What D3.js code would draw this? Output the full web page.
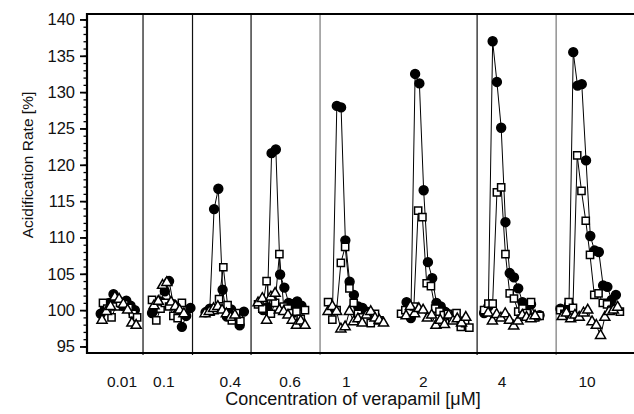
<!DOCTYPE html>
<html><head><meta charset="utf-8">
<script src="https://cdn.jsdelivr.net/npm/d3@7"></script>
<style>html,body{margin:0;padding:0;background:#fff}svg{display:block}</style>
</head><body>
<script>
// ---------- data ----------
const concLabels = ["0.01","0.1","0.4","0.6","1","2","4","10"];
const labelTime  = [8.2, 18.0, 33.6, 47.6, 60.8, 78.8, 97.3, 117.2];   // minutes
const separatorTime = [13.13, 24.73, 38.45, 54.62, 91.43, 109.95];
const separatorGrey = [false, false, false, true, false, true];

const circleStart = [3.21, 15.24, 27.78, 41.26, 57.55, 74.9, 93.07, 110.96];
const squareStart = [3.75, 15.24, 28.95, 40.09, 56.5, 73.61, 93.07, 110.89];
const triStart    = [3.52, 15.71, 27.66, 40.09, 56.5, 74.78, 94.01, 111.36];

const circleVals = [
  [99.5,100.2,101.0,102.2,101.0,100.6,101.3,100.6,100.0],
  [99.6,100.2,101.2,102.6,104.0,100.8,99.5,97.7,99.2,100.3],
  [99.7,100.2,113.9,116.7,102.8,99.1,100.1,99.3,97.9,99.8],
  [100.0,100.4,121.6,122.1,104.9,103.1,101.0,100.8,101.2,100.6],
  [100.1,128.1,127.9,109.6,103.9,102.1,100.5,100.3,99.8,99.2,98.8],
  [101.1,98.9,132.5,131.2,116.5,106.6,104.4,101.0,100.5,99.8,99.3,99.0],
  [99.6,100.5,137.0,131.4,125.1,112.1,105.1,104.5,103.0,101.1,99.8,100.8,99.1,99.3],
  [100.2,99.4,100.7,135.5,130.9,131.1,120.6,110.2,108.2,108.0,103.4,103.2,101.4,102.1]
];
const squareVals = [
  [101.0,100.2,99.0,100.5,101.0,100.8,100.3,99.5,99.0],
  [101.4,98.6,100.2,101.0,100.5,99.2,98.9,101.0],
  [99.8,100.0,101.5,105.9,100.7,98.6,99.6,98.5],
  [100.8,100.2,104.0,99.5,101.0,107.7,100.5,100.2,99.6,99.8,98.8,100.0],
  [101.1,98.7,100.0,106.5,108.7,103.0,101.0,99.5,99.0,98.5,98.2,99.5,98.6],
  [99.5,100.0,99.8,100.5,113.7,112.8,103.7,103.3,100.2,99.8,99.3,99.5,98.9,99.6,97.7,98.2,97.6],
  [100.0,100.9,100.9,116.2,116.9,107.7,102.3,101.6,99.8,100.2,99.6,101.1,99.0,99.2],
  [100.0,99.5,101.1,100.3,121.3,116.4,112.3,107.6,102.1,102.3,101.0,100.8,100.0,100.3,99.8]
];
const triVals = [
  [98.6,99.8,100.5,101.8,101.5,100.8,100.0,98.2,97.9],
  [100.6,101.2,103.4,103.8,101.1,100.5,100.0,99.5],
  [99.5,99.8,100.2,100.5,100.0,99.5,99.0,99.3],
  [101.0,101.6,98.6,101.8,102.3,100.0,99.8,99.3,98.6,97.9,98.5,97.9],
  [99.8,100.5,99.8,97.4,97.7,99.8,98.4,98.8,98.2,99.3,99.8,98.9,98.6,98.2],
  [99.2,100.5,99.5,100.2,100.0,98.9,99.3,97.9,98.6,98.0,99.3,98.5,98.8,98.2,99.0],
  [99.6,98.5,99.4,98.9,99.5,98.6,97.8,98.5,99.3,99.0,98.8,99.2],
  [99.1,99.6,98.8,99.3,99.0,99.6,100.0,98.4,97.9,96.5,99.0,99.8,100.0,100.4]
];
const yMajorTicks = [95,100,105,110,115,120,125,130,135,140];
const sampleStep = 1; // minutes between samples

// ---------- layout ----------
const W = 634, H = 414;
const mLeft = 87, mRight = 634, mTop = 14, mBottom = 353;
const font = "'Liberation Sans', Arial, sans-serif";

const svg = d3.select("body").append("svg").attr("width", W).attr("height", H);
const x = d3.scaleLinear().domain([0, 128.2]).range([mLeft, mRight]);
const y = d3.scaleLinear().domain([94.1, 140.75]).range([mBottom, mTop]);

// separators
svg.append("g").selectAll("line").data(separatorTime).join("line")
  .attr("x1", d => x(d)).attr("x2", d => x(d))
  .attr("y1", mTop).attr("y2", mBottom + 2)
  .attr("stroke", (d, i) => separatorGrey[i] ? "#777" : "#111")
  .attr("stroke-width", 1.2);

// y axis
const yMinor = d3.range(95, 141, 1);
const yAxisMinor = d3.axisLeft(y).tickValues(yMinor).tickSize(3.5).tickFormat("");
const yAxisMajor = d3.axisLeft(y).tickValues(yMajorTicks).tickSize(7).tickPadding(5);
const gMin = svg.append("g").attr("transform", `translate(${mLeft},0)`).call(yAxisMinor);
gMin.select(".domain").remove();
gMin.selectAll("line").attr("stroke", "#000").attr("stroke-width", 1.3);
const gMaj = svg.append("g").attr("transform", `translate(${mLeft},0)`).call(yAxisMajor);
gMaj.select(".domain").remove();
gMaj.selectAll("line").attr("stroke", "#000").attr("stroke-width", 1.8);
gMaj.selectAll("text").attr("font-family", font).attr("font-size", 16.5).attr("fill", "#111");

// frame lines (left, top, bottom)
svg.append("line").attr("x1", mLeft).attr("x2", mLeft).attr("y1", mTop - 1).attr("y2", mBottom + 1)
  .attr("stroke", "#000").attr("stroke-width", 2.2);
svg.append("line").attr("x1", mLeft).attr("x2", mRight).attr("y1", mTop).attr("y2", mTop)
  .attr("stroke", "#000").attr("stroke-width", 2.2);
svg.append("line").attr("x1", mLeft).attr("x2", mRight).attr("y1", mBottom).attr("y2", mBottom)
  .attr("stroke", "#000").attr("stroke-width", 2.2);

// x labels
svg.append("g").selectAll("text").data(concLabels).join("text")
  .attr("x", (d, i) => x(labelTime[i])).attr("y", 387)
  .attr("text-anchor", "middle").attr("font-family", font).attr("font-size", 15.5).attr("fill", "#111")
  .text(d => d);

// titles
svg.append("text").attr("x", 353).attr("y", 405).attr("text-anchor", "middle")
  .attr("font-family", font).attr("font-size", 18).attr("fill", "#111")
  .text("Concentration of verapamil [\u03BCM]");
svg.append("text").attr("transform", "translate(33,165) rotate(-90)").attr("text-anchor", "middle")
  .attr("font-family", font).attr("font-size", 15.5).attr("fill", "#111")
  .text("Acidification Rate [%]");

// series
function pts(starts, vals, p) {
  return vals[p].map((v, j) => ({ t: starts[p] + j * sampleStep, v }));
}
const line = d3.line().x(d => x(d.t)).y(d => y(d.v));
const series = [
  { starts: circleStart, vals: circleVals, type: d3.symbolCircle, size: 62, fill: "#000" },
  { starts: squareStart, vals: squareVals, type: d3.symbolSquare, size: 52, fill: "#fff" },
  { starts: triStart, vals: triVals, type: d3.symbolTriangle, size: 44, fill: "#fff" }
];
const gLines = svg.append("g");
series.forEach(s => {
  concLabels.forEach((c, p) => {
    gLines.append("path").datum(pts(s.starts, s.vals, p)).attr("d", line)
      .attr("fill", "none").attr("stroke", "#000").attr("stroke-width", 1);
  });
});
series.forEach(s => {
  const g = svg.append("g");
  concLabels.forEach((c, p) => {
    g.selectAll(null).data(pts(s.starts, s.vals, p)).join("path")
      .attr("transform", d => `translate(${x(d.t)},${y(d.v)})`)
      .attr("d", d3.symbol().type(s.type).size(s.size))
      .attr("fill", s.fill).attr("stroke", "#000").attr("stroke-width", 1.5);
  });
});
</script>
</body></html>
